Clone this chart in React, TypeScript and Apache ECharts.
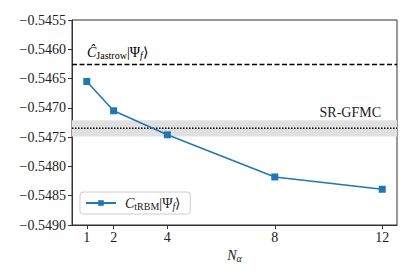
import React, { useEffect, useRef } from "react";
import * as echarts from "echarts";

const nAlpha = [1, 2, 4, 8, 12];
const energyTRBM = [-0.54655, -0.54705, -0.54746, -0.54818, -0.54839];
const jastrowEnergy = -0.54626;
const srgfmcEnergy = -0.54735;
const srgfmcError = 0.00014;
const xTicks = [1, 2, 4, 8, 12];
const yMin = -0.549;
const yMax = -0.5455;
const yStep = 0.0005;
const xMin = 0.45;
const xMax = 12.55;

const FONT = "Liberation Serif";

export default function App() {
  const ref = useRef<HTMLDivElement>(null);
  useEffect(() => {
    if (!ref.current) return;
    const chart = echarts.init(ref.current, undefined, { renderer: "svg" });
    const fmtY = (v: number) => (v < 0 ? "\u2212" : "") + Math.abs(v).toFixed(4);
    const mathRich = {
      c: { fontFamily: FONT, fontStyle: "italic", fontSize: 14, color: "#222" },
      s: { fontFamily: FONT, fontSize: 10, color: "#222", padding: [6, 0, 0, 0] },
      n: { fontFamily: FONT, fontSize: 14, color: "#222" },
      f: { fontFamily: FONT, fontStyle: "italic", fontSize: 10, color: "#222", padding: [6, 0, 0, 0] },
    };
    chart.setOption({
      animation: false,
      grid: {
        left: 72,
        right: 18,
        top: 20,
        bottom: 52,
        show: true,
        borderColor: "#333",
        borderWidth: 1,
        backgroundColor: "transparent",
      },
      xAxis: {
        type: "value",
        min: xMin,
        max: xMax,
        name: "{i|N}{s|α}",
        nameLocation: "middle",
        nameGap: 22,
        nameTextStyle: {
          rich: {
            i: { fontFamily: FONT, fontStyle: "italic", fontSize: 14, color: "#222" },
            s: { fontFamily: FONT, fontStyle: "italic", fontSize: 10, color: "#222", padding: [6, 0, 0, 0] },
          },
        },
        axisLine: { show: true, onZero: false, lineStyle: { color: "#333", width: 1 } },
        axisTick: { show: true, length: 4, inside: false, customValues: xTicks, lineStyle: { color: "#333" } },
        axisLabel: {
          customValues: xTicks,
          fontFamily: FONT,
          fontSize: 14,
          color: "#222",
          margin: 5,
        },
        splitLine: { show: false },
      },
      yAxis: {
        type: "value",
        min: yMin,
        max: yMax,
        interval: yStep,
        axisLine: { show: true, onZero: false, lineStyle: { color: "#333", width: 1 } },
        axisTick: { show: true, length: 4, inside: false, lineStyle: { color: "#333" } },
        axisLabel: {
          formatter: fmtY,
          fontFamily: FONT,
          fontSize: 14,
          color: "#222",
          margin: 6,
        },
        splitLine: { show: false },
      },
      legend: {
        left: 80,
        top: 192,
        padding: [4, 10, 3, 5],
        backgroundColor: "rgba(255,255,255,0.8)",
        borderColor: "#ccc",
        borderWidth: 1,
        borderRadius: 3,
        itemWidth: 30,
        itemHeight: 7,
        data: [{ name: "tRBM" }],
        formatter: () => "{c|C}{s|tRBM}{n||Ψ}{f|f}{n|⟩}",
        textStyle: {
          rich: { ...mathRich, c: { ...mathRich.c, padding: [0, 0, 0, 4] } },
        },
      },
      series: [
        {
          name: "band",
          type: "line",
          data: [],
          silent: true,
          markArea: {
            silent: true,
            itemStyle: { color: "#e0e0e0", opacity: 1 },
            data: [[{ yAxis: srgfmcEnergy + srgfmcError }, { yAxis: srgfmcEnergy - srgfmcError }]],
          },
          z: 1,
        },
        {
          name: "Jastrow",
          type: "line",
          data: [
            [xMin, jastrowEnergy],
            [xMax, jastrowEnergy],
          ],
          symbol: "none",
          silent: true,
          lineStyle: { color: "#000", type: [5, 2.5], width: 1.5 },
          z: 2,
        },
        {
          name: "SR-GFMC",
          type: "line",
          data: [
            [xMin, srgfmcEnergy],
            [xMax, srgfmcEnergy],
          ],
          symbol: "none",
          silent: true,
          lineStyle: { color: "#000", type: [1.5, 1.5], width: 1.5 },
          z: 2,
        },
        {
          name: "tRBM",
          type: "line",
          data: nAlpha.map((x, i) => [x, energyTRBM[i]]),
          symbol: "rect",
          symbolSize: 7,
          color: "#1f77b4",
          lineStyle: { color: "#1f77b4", width: 1.5 },
          itemStyle: { color: "#1f77b4" },
          z: 3,
        },
      ],
    });
    const jp = chart.convertToPixel({ gridIndex: 0 }, [xMin, jastrowEnergy]) as number[];
    const sp = chart.convertToPixel({ gridIndex: 0 }, [xMax, srgfmcEnergy]) as number[];
    chart.setOption({
      graphic: [
        {
          type: "text",
          x: jp[0] + 15,
          y: jp[1] - 4,
          z: 10,
          style: {
            text: "{c|Ĉ}{s|Jastrow}{n||Ψ}{f|f}{n|⟩}",
            rich: mathRich,
            verticalAlign: "bottom",
            align: "left",
          },
        },
        {
          type: "text",
          x: sp[0] - 16,
          y: sp[1] - 9,
          z: 10,
          style: {
            text: "SR-GFMC",
            font: "14px 'Liberation Serif'",
            fill: "#222",
            verticalAlign: "bottom",
            align: "right",
          },
        },
      ],
    });
    return () => chart.dispose();
  }, []);
  return (
    <div
      ref={ref}
      style={{ position: "fixed", left: 0, top: 0, width: 415, height: 277, background: "#fff" }}
    />
  );
}
